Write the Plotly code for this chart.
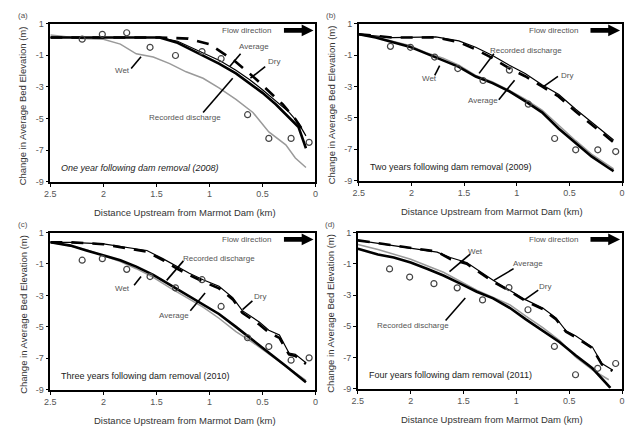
import plotly.graph_objects as go

W, H = 626, 427

# ---------------- data ----------------
tick_x = [2.5, 2, 1.5, 1, 0.5, 0]
tick_x_text = ["2.5", "2", "1.5", "1", "0.5", "0"]
tick_y = [1, -1, -3, -5, -7, -9]
tick_y_text = ["1", "-1", "-3", "-5", "-7", "-9"]

obs_x = [2.2, 2.01, 1.78, 1.56, 1.32, 1.07, 0.89, 0.64, 0.44, 0.23, 0.06]

# Panel (a) 2008
a_avg_x = [2.5, 1.47, 1.31, 1.19, 1.06, 0.91, 0.75, 0.625, 0.5, 0.375, 0.25, 0.16, 0.09]
a_avg_y = [0.12, 0.12, -0.19, -0.6, -1.02, -1.53, -2.15, -2.77, -3.38, -4.1, -4.93, -5.54, -6.88]
a_rec_x = [2.5, 1.47, 1.3, 1.18, 1.06, 0.9, 0.75, 0.62, 0.5, 0.37, 0.25, 0.16, 0.09]
a_rec_y = [0.12, 0.12, -0.12, -0.48, -0.82, -1.35, -1.95, -2.55, -3.18, -3.9, -4.6, -5.3, -6.1]
a_dry_x = [2.5, 1.47, 1.2, 1.0, 0.75, 0.56, 0.44, 0.31, 0.19, 0.11]
a_dry_y = [0.12, 0.12, 0.05, -0.3, -1.43, -2.52, -3.28, -4.1, -5.03, -5.85]
a_wet_x = [2.5, 2.2, 2.0, 1.84, 1.69, 1.53, 1.375, 1.22, 1.06, 0.91, 0.75, 0.59, 0.44, 0.28, 0.19, 0.09]
a_wet_y = [0.28, 0.05, 0.01, -0.3, -0.91, -1.12, -1.53, -2.05, -2.46, -3.07, -3.79, -4.62, -5.85, -6.67, -7.5, -8.1]
a_obs_y = [0.01, 0.32, 0.42, -0.5, -1.02, -0.77, -1.22, -4.76, -6.26, -6.26, -6.51]

# Panel (b) 2009
b_rec_x = [2.5, 2.34, 2.02, 1.86, 1.7, 1.55, 1.39, 1.23, 1.07, 0.92, 0.76, 0.6, 0.44, 0.29, 0.13, 0.08]
b_rec_y = [0.32, 0.11, -0.47, -0.93, -1.34, -1.75, -2.37, -2.79, -3.31, -3.93, -4.65, -5.69, -6.62, -7.45, -8.17, -8.38]
b_wet_y = [0.32, 0.15, -0.4, -0.85, -1.2, -1.65, -2.3, -2.72, -3.25, -3.8, -4.5, -5.5, -6.45, -7.3, -8.0, -8.25]
b_avg_x = [2.5, 2.18, 1.77, 1.55, 1.39, 1.23, 1.07, 0.92, 0.76, 0.6, 0.44, 0.29, 0.13, 0.08]
b_avg_y = [0.32, 0.11, 0.15, -0.1, -0.51, -1.03, -1.65, -2.17, -2.89, -3.51, -4.45, -5.27, -6.1, -6.41]
b_dry_y = [0.32, 0.11, 0.12, -0.18, -0.65, -1.2, -1.85, -2.35, -3.0, -3.65, -4.6, -5.4, -6.25, -6.55]
b_obs_y = [-0.45, -0.51, -1.13, -1.86, -2.62, -1.96, -4.13, -6.31, -7.03, -7.03, -7.14]

# Panel (c) 2010
c_avg_x = [2.5, 2.31, 2.0, 1.78, 1.59, 1.44, 1.31, 1.19, 1.06, 0.91, 0.78, 0.69, 0.53, 0.44, 0.34, 0.25, 0.19, 0.09]
c_avg_y = [0.38, 0.38, 0.28, 0.07, -0.14, -0.66, -1.17, -1.59, -2.0, -2.42, -3.14, -3.97, -4.69, -5.21, -5.52, -6.66, -6.75, -7.28]
c_dry_y = [0.38, 0.38, 0.26, 0.0, -0.22, -0.75, -1.28, -1.7, -2.12, -2.55, -3.25, -4.1, -4.85, -5.35, -5.7, -6.75, -6.85, -7.35]
c_rec_x = [2.5, 2.31, 2.16, 2.0, 1.84, 1.69, 1.53, 1.375, 1.22, 1.06, 0.91, 0.75, 0.59, 0.44, 0.28, 0.09]
c_rec_y = [0.38, 0.17, -0.14, -0.45, -0.76, -1.17, -1.69, -2.31, -2.93, -3.55, -4.18, -5.0, -5.83, -6.66, -7.49, -8.52]
c_wet_y = [0.38, 0.15, -0.1, -0.5, -0.85, -1.3, -1.85, -2.5, -3.1, -3.75, -4.45, -5.3, -6.0, -6.75, -7.5, -8.4]
c_obs_y = [-0.76, -0.66, -1.34, -1.8, -2.52, -2.0, -3.7, -5.69, -6.25, -7.12, -6.97]

# Panel (d) 2011
d_avg_x = [2.5, 2.0, 1.75, 1.625, 1.47, 1.22, 1.06, 0.91, 0.75, 0.625, 0.53, 0.44, 0.28, 0.19, 0.09]
d_avg_y = [0.5, 0.02, -0.25, -0.6, -0.92, -2.06, -2.69, -3.31, -3.83, -4.46, -5.29, -5.6, -6.33, -7.38, -7.79]
d_dry_y = [0.5, 0.0, -0.22, -0.7, -1.0, -2.15, -2.75, -3.4, -3.9, -4.55, -5.35, -5.7, -6.4, -7.45, -7.85]
d_wet_x = [2.5, 2.31, 2.0, 1.69, 1.375, 1.06, 0.91, 0.75, 0.59, 0.44, 0.28, 0.125]
d_wet_y = [0.23, -0.08, -0.71, -1.54, -2.69, -3.63, -4.35, -5.08, -5.92, -6.96, -7.79, -8.42]
d_rec_x = [2.5, 2.31, 2.16, 2.0, 1.84, 1.69, 1.53, 1.375, 1.22, 1.06, 0.91, 0.75, 0.59, 0.44, 0.28, 0.11]
d_rec_y = [-0.04, -0.4, -0.6, -0.92, -1.33, -1.75, -2.27, -2.79, -3.21, -3.83, -4.56, -5.29, -6.02, -6.85, -7.69, -8.94]
d_obs_y = [-1.33, -1.85, -2.27, -2.54, -3.31, -2.52, -3.94, -6.29, -8.1, -7.69, -7.38]

captions = ["One year following dam removal (2008)",
            "Two years following dam removal (2009)",
            "Three years following dam removal (2010)",
            "Four years following dam removal (2011)"]
panel_tags = ["(a)", "(b)", "(c)", "(d)"]
x_title = "Distance Upstream from Marmot Dam (km)"
y_title = "Change in Average Bed Elevation (m)"

# ---------------- layout geometry (pixels) ----------------
boxes = [(45, 19, 314, 181), (358, 19, 625, 180), (45, 233, 314, 394), (357, 233, 625, 393)]


def px(x):
    return x / W


def py(y):
    return 1 - y / H


THICK = dict(color="black", width=2.6)
THIN = dict(color="black", width=1.2)
DRY = dict(color="black", width=2.6, dash="12px,9px")
WET = dict(color="#9a9a9a", width=1.5)

panels = [
    [(a_wet_x, a_wet_y, WET), (a_rec_x, a_rec_y, THIN), (a_dry_x, a_dry_y, DRY), (a_avg_x, a_avg_y, THICK), a_obs_y],
    [(b_rec_x, b_wet_y, WET), (b_rec_x, b_rec_y, THICK), (b_avg_x, b_avg_y, THIN), (b_avg_x, b_dry_y, DRY), b_obs_y],
    [(c_rec_x, c_wet_y, WET), (c_rec_x, c_rec_y, THICK), (c_avg_x, c_avg_y, THIN), (c_avg_x, c_dry_y, DRY), c_obs_y],
    [(d_wet_x, d_wet_y, WET), (d_rec_x, d_rec_y, THICK), (d_avg_x, d_avg_y, THIN), (d_avg_x, d_dry_y, DRY), d_obs_y],
]

fig = go.Figure()
layout = {}
font_fam = "Liberation Sans, Arial, sans-serif"

for i, (box, items) in enumerate(zip(boxes, panels)):
    n = "" if i == 0 else str(i + 1)
    xa, ya = "x" + n, "y" + n
    for (xs, ys, ln) in items[:4]:
        fig.add_trace(go.Scatter(x=xs, y=ys, mode="lines", line=ln, xaxis=xa, yaxis=ya,
                                 showlegend=False, hoverinfo="skip"))
    fig.add_trace(go.Scatter(x=obs_x, y=items[4], mode="markers", xaxis=xa, yaxis=ya,
                             marker=dict(symbol="circle-open", size=6, color="#444",
                                         line=dict(width=1.2, color="#444")),
                             showlegend=False, hoverinfo="skip"))
    x0, y0, x1, y1 = box
    layout["xaxis" + n] = dict(domain=[px(x0), px(x1)], range=[2.5, 0], anchor=ya,
                               tickvals=tick_x, ticktext=tick_x_text, showline=True, mirror=True,
                               linecolor="black", linewidth=1.5, ticks="outside", ticklen=3,
                               tickcolor="black", showgrid=False, zeroline=False,
                               tickfont=dict(size=9, color="#555", family=font_fam))
    layout["yaxis" + n] = dict(domain=[py(y1), py(y0)], range=[-9, 1], anchor=xa,
                               tickvals=tick_y, ticktext=tick_y_text, showline=True, mirror=True,
                               linecolor="black", linewidth=1.5, ticks="outside", ticklen=3,
                               tickcolor="black", showgrid=False, zeroline=False,
                               tickfont=dict(size=9, color="#555", family=font_fam))

ann = []
shapes = []


def text(x, y, s, size=8, color="#555", xanchor="center", angle=0, italic=False):
    ann.append(dict(x=px(x), y=py(y), xref="paper", yref="paper", text=s, showarrow=False,
                    xanchor=xanchor, yanchor="middle", textangle=angle,
                    font=dict(size=size, color=color, family=font_fam,
                              style="italic" if italic else "normal")))


def leader(x0, y0, x1, y1):
    shapes.append(dict(type="line", xref="paper", yref="paper", x0=px(x0), y0=py(y0),
                       x1=px(x1), y1=py(y1), line=dict(color="black", width=1.6)))


def flow_arrow(xe, yc):
    path = (f"M {px(xe-30)},{py(yc-2.5)} L {px(xe-12)},{py(yc-2.5)} L {px(xe-12)},{py(yc-6)} "
            f"L {px(xe)},{py(yc)} L {px(xe-12)},{py(yc+6)} L {px(xe-12)},{py(yc+2.5)} "
            f"L {px(xe-30)},{py(yc+2.5)} Z")
    shapes.append(dict(type="path", xref="paper", yref="paper", path=path,
                       fillcolor="black", line=dict(color="black", width=0)))


# axis titles, panel tags, captions, flow arrows
for i, (x0, y0, x1, y1) in enumerate(boxes):
    cx = (x0 + x1) / 2
    text(cx + 2, y1 + 31, x_title, size=9.5, color="#333")
    text(x0 - 28, (y0 + y1) / 2 + 3, y_title, size=9.5, color="#333", angle=-90)
    text(x0 - 28, y0 - 8, panel_tags[i], size=8, color="#555")
    text(x0 + 9, y1 - 14, captions[i], size=9, color="#222", xanchor="left", italic=(i == 0))
    text(x1 - 70, y0 + 7, "Flow direction", size=8, color="#555")
    flow_arrow(x1 - 2, y0 + 7)

# panel (a) labels
text(252, 43, "Average"); text(272, 58, "Dry"); text(118, 67, "Wet"); text(182, 115, "Recorded discharge")
leader(127, 65, 137, 53); leader(238, 50, 227, 63); leader(263, 63, 248, 75); leader(200, 110, 230, 75)
# panel (b)
text(528, 47, "Recorded discharge"); text(430, 75, "Wet"); text(484, 98, "Average"); text(569, 72, "Dry")
leader(495, 50, 480, 70); leader(435, 72, 440, 62); leader(500, 97, 516, 77); leader(560, 73, 546, 83)
# panel (c)
text(216, 260, "Recorded discharge"); text(118, 290, "Wet"); text(170, 318, "Average"); text(258, 299, "Dry")
leader(180, 262, 163, 282); leader(130, 287, 137, 278); leader(187, 313, 202, 295); leader(250, 303, 240, 312)
# panel (d)
text(476, 252, "Wet"); text(530, 265, "Average"); text(547, 288, "Dry"); text(413, 328, "Recorded discharge")
leader(471, 255, 450, 273); leader(515, 270, 495, 282); leader(540, 292, 526, 302); leader(446, 323, 466, 300)

fig.update_layout(width=W, height=H, margin=dict(l=0, r=0, t=0, b=0),
                  paper_bgcolor="white", plot_bgcolor="white",
                  annotations=ann, shapes=shapes, **layout)
fig.write_html("out.html")
